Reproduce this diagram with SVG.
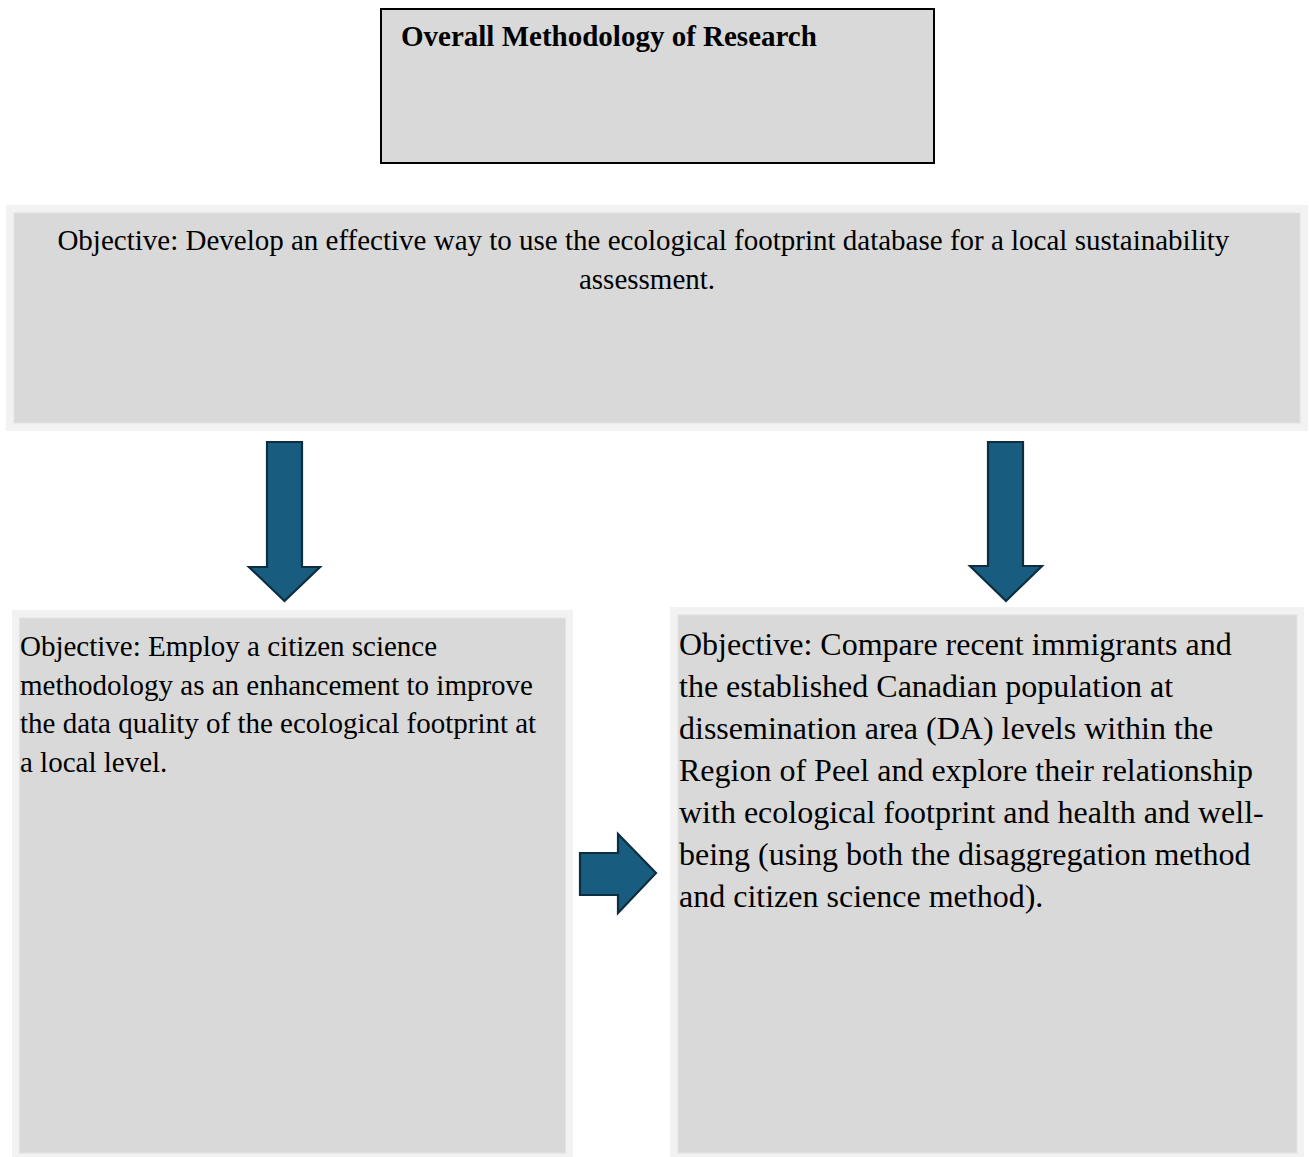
<svg xmlns="http://www.w3.org/2000/svg" width="1309" height="1157" viewBox="0 0 1309 1157">
  <style>
    .frame { fill: #f2f2f2; }
    .panel { fill: #d9d9d9; stroke: #e2e2e2; stroke-width: 1; }
    .txt { font-family: "Liberation Serif", "Times New Roman", serif; fill: #000; }
    .title { font-size: 29px; font-weight: bold; }
    .t29 { font-size: 29px; }
    .t32 { font-size: 32px; }
    .arrow { fill: #185d7f; stroke: #0d2e40; stroke-width: 2.2; stroke-linejoin: miter; }
  </style>
  <rect width="1309" height="1157" fill="#ffffff"/>

  <!-- title box -->
  <g id="title-box">
    <rect x="381" y="9" width="553" height="154" fill="#d9d9d9" stroke="#000" stroke-width="2"/>
    <text class="txt title" x="401" y="46">Overall Methodology of Research</text>
  </g>

  <!-- main objective -->
  <g id="main-objective">
    <rect class="frame" x="6" y="205" width="1302" height="226"/>
    <rect class="panel" x="14" y="213" width="1286" height="210"/>
    <text class="txt t29" text-anchor="middle">
      <tspan x="647" y="250">Objective: Develop an effective way to use the ecological footprint database for a local sustainability</tspan>
      <tspan x="647" y="289">assessment.</tspan>
    </text>
  </g>

  <!-- citizen science objective -->
  <g id="objective-citizen-science">
    <rect class="frame" x="12" y="610" width="561" height="552"/>
    <rect class="panel" x="19.5" y="618" width="546" height="535"/>
    <text class="txt t29">
      <tspan x="20" y="656">Objective: Employ a citizen science</tspan>
      <tspan x="20" y="694.5">methodology as an enhancement to improve</tspan>
      <tspan x="20" y="733">the data quality of the ecological footprint at</tspan>
      <tspan x="20" y="771.5">a local level.</tspan>
    </text>
  </g>

  <!-- comparison objective -->
  <g id="objective-comparison">
    <rect class="frame" x="670" y="607" width="634" height="555"/>
    <rect class="panel" x="678" y="615" width="619" height="538"/>
    <text class="txt t32">
      <tspan x="679" y="655">Objective: Compare recent immigrants and</tspan>
      <tspan x="679" y="697">the established Canadian population at</tspan>
      <tspan x="679" y="739">dissemination area (DA) levels within the</tspan>
      <tspan x="679" y="781">Region of Peel and explore their relationship</tspan>
      <tspan x="679" y="823">with ecological footprint and health and well-</tspan>
      <tspan x="679" y="865">being (using both the disaggregation method</tspan>
      <tspan x="679" y="907">and citizen science method).</tspan>
    </text>
  </g>

  <!-- block arrows -->
  <g id="connectors">
    <polygon class="arrow" points="267,442 302,442 302,567 320,567 284.5,601 249,567 267,567"/>
    <polygon class="arrow" points="988,442 1023,442 1023,566 1042,566 1006,601 970,566 988,566"/>
    <polygon class="arrow" points="580,853 618,853 618,834 656,873 618,913 618,895 580,895"/>
  </g>
</svg>
